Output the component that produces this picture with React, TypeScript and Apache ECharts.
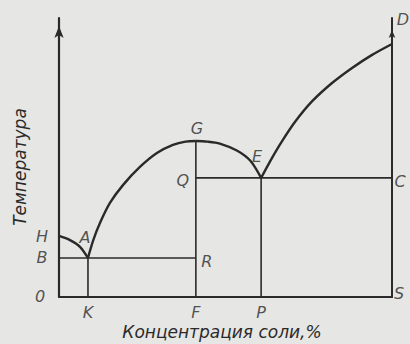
import React, { useEffect, useRef } from "react";
import * as echarts from "echarts";

// Phase diagram: temperature vs. salt concentration (x: 0–100 %, y: relative temperature)
const curveHA = [[0, 21.9], [3.3, 20.4], [6.3, 18.0], [8.7, 14.0]];
const curveAG = [
  [8.7, 14.0], [10.3, 20.4], [12.3, 26.5], [15.3, 33.7], [19.2, 40.1],
  [24.3, 46.6], [29.4, 51.6], [34.2, 54.5], [38.0, 55.7], [41.1, 55.9],
];
const curveGE = [[41.1, 55.9], [44.5, 55.7], [48.3, 55.0], [53.4, 52.5], [57.4, 48.9], [60.7, 42.7]];
const curveED = [
  [60.7, 42.7], [63.9, 49.7], [66.9, 55.7], [70.9, 62.8], [75.9, 70.0],
  [81.9, 76.6], [87.9, 82.0], [93.9, 86.7], [100, 90.7],
];

// Construction lines
const lineBR = [[0, 14.0], [41.1, 14.0]];
const lineQC = [[41.1, 42.7], [100, 42.7]];
const lineKA = [[8.7, 0], [8.7, 14.0]];
const lineFG = [[41.1, 0], [41.1, 55.9]];
const linePE = [[60.7, 0], [60.7, 42.7]];

// Point letters and their coordinates
const pointNames = ["H", "B", "0", "K", "F", "P", "S", "C", "D", "A", "G", "E", "Q", "R"];
const pointX = [0, 0, 0, 8.7, 41.1, 60.7, 100, 100, 100, 8.7, 41.1, 60.7, 41.1, 41.1];
const pointY = [21.9, 14.0, 0, 0, 0, 0, 0, 42.7, 100, 14.0, 55.9, 42.7, 42.7, 14.0];

const yTitle = "Температура";
const xTitle = "Концентрация соли,%";

const labelOffsets: Record<string, [number, number]> = {
  H: [-17, 1], B: [-17, 0], "0": [-19, -1], K: [0, 15], F: [0, 15], P: [0, 15],
  S: [7, -4], C: [8, 4], D: [11, 1], A: [-3, -20], G: [1, -13], E: [-4, -21],
  Q: [-13, 3], R: [11, 4],
};

const INK = "#2a2a2a";
const FONT = "DejaVu Sans";

export default function App() {
  const ref = useRef<HTMLDivElement>(null);
  useEffect(() => {
    if (!ref.current) return;
    const chart = echarts.init(ref.current, undefined, { renderer: "svg" });

    const curve = (data: number[][]) => ({
      type: "line", data, smooth: 0.3, symbol: "none", silent: true,
      lineStyle: { color: INK, width: 2.4 },
    });
    const seg = (data: number[][]) => ({
      type: "line", data, symbol: "none", silent: true,
      lineStyle: { color: INK, width: 1.6 },
    });

    chart.setOption({
      animation: false,
      backgroundColor: "#e6e6e4",
      grid: { left: 59, right: 18, top: 18, bottom: 47 },
      xAxis: {
        type: "value", min: 0, max: 100,
        axisLine: { lineStyle: { color: INK, width: 2.2 } },
        axisTick: { show: false }, axisLabel: { show: false }, splitLine: { show: false },
      },
      yAxis: [
        {
          type: "value", min: 0, max: 100, position: "left",
          axisLine: {
            show: true, symbol: ["none", "arrow"], symbolSize: [7, 12], symbolOffset: [0, -8],
            lineStyle: { color: INK, width: 2.2 },
          },
          axisTick: { show: false }, axisLabel: { show: false }, splitLine: { show: false },
        },
        {
          type: "value", min: 0, max: 100, position: "right",
          axisLine: {
            show: true, symbol: ["none", "arrow"], symbolSize: [5, 8], symbolOffset: [0, -12],
            lineStyle: { color: INK, width: 2 },
          },
          axisTick: { show: false }, axisLabel: { show: false }, splitLine: { show: false },
        },
      ],
      series: [
        curve(curveHA), curve(curveAG), curve(curveGE), curve(curveED),
        seg(lineBR), seg(lineQC), seg(lineKA), seg(lineFG), seg(linePE),
        {
          type: "scatter", symbolSize: 0, silent: true,
          data: pointNames.map((n, i) => ({
            value: [pointX[i], pointY[i]],
            label: {
              show: true, position: "inside", formatter: n, offset: labelOffsets[n],
              color: INK, fontFamily: FONT, fontStyle: "italic", fontSize: 16,
            },
          })),
        },
      ],
      graphic: [
        {
          type: "text", x: 20, y: 167, rotation: Math.PI / 2,
          style: {
            text: yTitle, fill: INK, font: `italic 17px "${FONT}"`,
            align: "center", verticalAlign: "middle",
          },
        },
        {
          type: "text", x: 222, y: 332,
          style: {
            text: xTitle, fill: INK, font: `italic 17px "${FONT}"`,
            align: "center", verticalAlign: "middle",
          },
        },
      ],
    });
    return () => chart.dispose();
  }, []);
  return (
    <div
      ref={ref}
      style={{ position: "fixed", left: 0, top: 0, width: 410, height: 344 }}
    />
  );
}
